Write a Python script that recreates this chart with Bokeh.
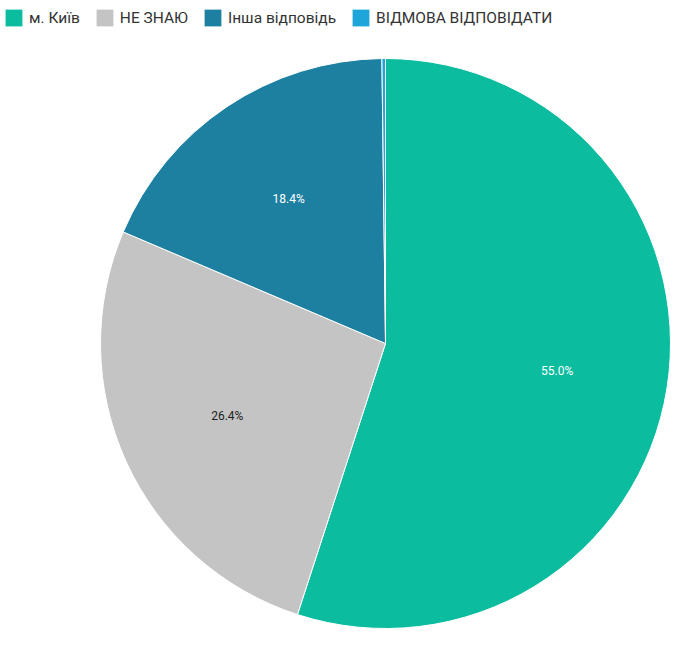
import math
from bokeh.plotting import figure
from bokeh.models import Legend, LegendItem, ColumnDataSource
from bokeh.core.properties import value
from bokeh.embed import file_html
from bokeh.resources import INLINE

categories = ["м. Київ", "НЕ ЗНАЮ", "Інша відповідь", "ВІДМОВА ВІДПОВІДАТИ"]
shares = [55.0, 26.4, 18.4, 0.2]
label_texts = ["55.0%", "26.4%", "18.4%", ""]
colors = ["#0bbc9f", "#c4c4c4", "#1e80a1", "#1ea6da"]
label_colors = ["#ffffff", "#222222", "#ffffff", "#ffffff"]

W, H = 674, 634
cx, cy, R = 385, H - 343, 285

total = sum(shares)
starts, ends, lx, ly = [], [], [], []
acc = 0.0
for s in shares:
    a0 = math.pi / 2 - 2 * math.pi * acc / total
    a1 = math.pi / 2 - 2 * math.pi * (acc + s) / total
    starts.append(a0)
    ends.append(a1)
    mid = (a0 + a1) / 2
    lx.append(cx + 0.61 * R * math.cos(mid))
    ly.append(cy + 0.61 * R * math.sin(mid))
    acc += s

p = figure(width=W, height=H, x_range=(0, W), y_range=(0, H),
           output_backend="svg", toolbar_location=None,
           min_border=0, min_border_left=0, min_border_right=0,
           min_border_top=0, min_border_bottom=0)
p.axis.visible = False
p.grid.visible = False
p.outline_line_color = None
p.background_fill_color = "#ffffff"

nan = float("nan")
swatches = []
for i in range(len(shares)):
    p.wedge(x=cx, y=cy, radius=R, start_angle=starts[i], end_angle=ends[i],
            direction="clock", fill_color=colors[i], line_color="#ffffff",
            line_width=1)
    q = p.quad(left=[nan], right=[nan], top=[nan], bottom=[nan],
               fill_color=colors[i], line_color=None)
    swatches.append(q)

src = ColumnDataSource(dict(x=lx, y=ly, t=label_texts, c=label_colors))
p.text(x="x", y="y", text="t", text_color="c", source=src,
       text_align="center", text_baseline="middle",
       text_font=value("Roboto"), text_font_size="12px")

legend = Legend(items=[LegendItem(label=categories[i], renderers=[swatches[i]])
                       for i in range(len(categories))],
                orientation="horizontal", location=(3, H - 7 - 21),
                glyph_width=21, glyph_height=21, label_standoff=5,
                spacing=14, padding=0, margin=0,
                label_text_font="Roboto", label_text_font_size="15.5px",
                label_text_color="#333333", border_line_color=None,
                background_fill_alpha=0)
p.add_layout(legend)

open("out.html", "w").write(file_html(p, INLINE))
